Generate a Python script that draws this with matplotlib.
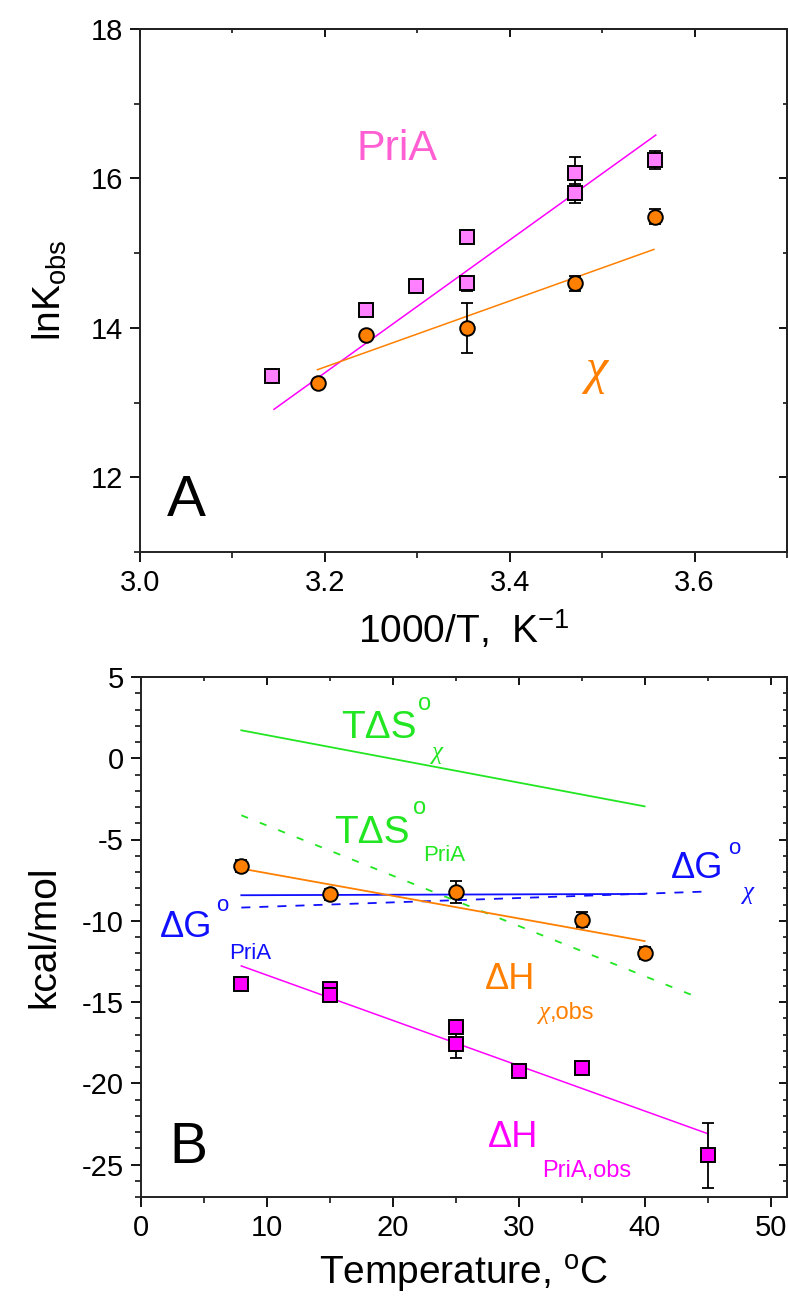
import matplotlib
matplotlib.use("Agg")
import matplotlib.pyplot as plt
from matplotlib.ticker import MultipleLocator

plt.rcParams["font.family"] = ["Liberation Sans", "DejaVu Sans"]
plt.rcParams["mathtext.fontset"] = "custom"
plt.rcParams["mathtext.rm"] = "Liberation Sans"
plt.rcParams["mathtext.default"] = "regular"
plt.rcParams["axes.unicode_minus"] = False

# ---- panel A: van't Hoff data ----
invT_pria = [3.143, 3.245, 3.299, 3.354, 3.354, 3.471, 3.471, 3.557]
lnK_pria = [13.36, 14.24, 14.56, 15.21, 14.60, 16.07, 15.80, 16.25]
lnK_pria_err = [0.05, 0.07, 0.06, 0.05, 0.10, 0.22, 0.13, 0.12]

invT_chi = [3.193, 3.245, 3.354, 3.471, 3.557]
lnK_chi = [13.26, 13.90, 14.00, 14.60, 15.49]
lnK_chi_err = [0.05, 0.05, 0.33, 0.10, 0.10]

pria_fit_x = [3.145, 3.558]
pria_fit_y = [12.91, 16.58]
chi_fit_x = [3.192, 3.556]
chi_fit_y = [13.44, 15.05]

# ---- panel B: thermodynamic parameters ----
temp_chi = [8, 15, 25, 35, 40]
dH_chi = [-6.63, -8.37, -8.23, -9.93, -11.98]
dH_chi_err = [0.35, 0.35, 0.65, 0.45, 0.35]

temp_pria = [8, 15, 15, 25, 25, 30, 35, 45]
dH_pria = [-13.87, -14.20, -14.55, -16.54, -17.56, -19.26, -19.04, -24.43]
dH_pria_err = [0.3, 0.3, 0.3, 0.3, 0.9, 0.3, 0.35, 2.0]

tds_chi_T = [8, 40]
tds_chi = [1.72, -2.96]
tds_pria_T = [8, 44.5]
tds_pria = [-3.51, -14.80]
dH_chi_fit_T = [8, 40]
dH_chi_fit = [-6.79, -11.25]
dG_chi_T = [8, 40]
dG_chi = [-8.43, -8.35]
dG_pria_T = [8, 45]
dG_pria = [-9.19, -8.20]
dH_pria_fit_T = [8, 45]
dH_pria_fit = [-12.78, -23.10]

MAGENTA = "#ff00ff"
VIOLET = "#ff80ff"
ORANGE = "#ff8000"
GREEN = "#22e622"
BLUE = "#1010ff"
PINK = "#ff5fd2"
CHI_FONT = ["Liberation Serif", "DejaVu Serif"]

W, H = 788, 1302


def frame(fig, left, right, top, bottom):
    return fig.add_axes([left / W, 1 - bottom / H, (right - left) / W, (bottom - top) / H])


def style(ax, xmaj, xmin, ymaj, ymin):
    for s in ax.spines.values():
        s.set_linewidth(1.4)
        s.set_color("#222222")
    ax.xaxis.set_major_locator(MultipleLocator(xmaj))
    ax.xaxis.set_minor_locator(MultipleLocator(xmin))
    ax.yaxis.set_major_locator(MultipleLocator(ymaj))
    ax.yaxis.set_minor_locator(MultipleLocator(ymin))
    ax.tick_params(which="major", direction="out", length=7, width=1.3, labelsize=21, pad=5)
    ax.tick_params(which="minor", direction="out", length=4, width=1.1)
    top = ax.secondary_xaxis("top")
    right = ax.secondary_yaxis("right")
    for sec, axis in ((top, top.xaxis), (right, right.yaxis)):
        maj = xmaj if sec is top else ymaj
        mnr = xmin if sec is top else ymin
        axis.set_major_locator(MultipleLocator(maj))
        axis.set_minor_locator(MultipleLocator(mnr))
        sec.tick_params(which="major", direction="in", length=6, width=1.3, labelsize=0)
        sec.tick_params(which="minor", direction="in", length=3, width=1.1)
        axis.set_ticklabels([])
        for s in sec.spines.values():
            s.set_linewidth(1.4)
            s.set_color("#222222")


fig = plt.figure(figsize=(W / 100, H / 100), dpi=100)

# ---------------- panel A ----------------
axA = frame(fig, 140, 787, 29, 552)
axA.set_xlim(3.0, 3.7)
axA.set_ylim(11, 18)

axA.plot(pria_fit_x, pria_fit_y, color=MAGENTA, lw=1.1, zorder=2)
axA.plot(chi_fit_x, chi_fit_y, color=ORANGE, lw=1.1, zorder=2)
axA.errorbar(invT_pria, lnK_pria, yerr=lnK_pria_err, fmt="none", ecolor="black",
             elinewidth=1.3, capsize=4, capthick=1.3, zorder=3)
axA.errorbar(invT_chi, lnK_chi, yerr=lnK_chi_err, fmt="none", ecolor="black",
             elinewidth=1.3, capsize=4, capthick=1.3, zorder=3)
axA.plot(invT_pria, lnK_pria, "s", ms=9.5, mfc=VIOLET, mec="black", mew=1.4, ls="none", zorder=4)
axA.plot(invT_chi, lnK_chi, "o", ms=10.5, mfc=ORANGE, mec="black", mew=1.4, ls="none", zorder=4)

style(axA, 0.2, 0.1, 2, 1)
axA.set_xticks([3.0, 3.2, 3.4, 3.6])
axA.set_xticklabels(["3.0", "3.2", "3.4", "3.6"])
axA.set_xlabel("1000/T,  K$^{-1}$", fontsize=28, labelpad=8)
axA.set_ylabel("lnK$_{obs}$", fontsize=28, labelpad=16)

axA.text(3.234, 16.25, "PriA", color=PINK, fontsize=31)
axA.text(3.482, 13.43, "χ", color=ORANGE, fontsize=36, va="center", family=CHI_FONT, style="italic")
axA.text(3.029, 11.48, "A", color="black", fontsize=42)

# ---------------- panel B ----------------
axB = frame(fig, 140.5, 787, 677, 1197)
axB.set_xlim(0, 51.3)
axB.set_ylim(-27, 5)

axB.plot(tds_chi_T, tds_chi, color=GREEN, lw=1.3, zorder=2)
axB.plot(tds_pria_T, tds_pria, color=GREEN, lw=1.3, ls=(0, (4, 7)), zorder=2)
axB.plot(dG_chi_T, dG_chi, color=BLUE, lw=1.3, zorder=2)
axB.plot(dG_pria_T, dG_pria, color=BLUE, lw=1.3, ls=(0, (5, 5)), zorder=2)
axB.plot(dH_chi_fit_T, dH_chi_fit, color=ORANGE, lw=1.3, zorder=2)
axB.plot(dH_pria_fit_T, dH_pria_fit, color=MAGENTA, lw=1.1, zorder=2)

axB.errorbar(temp_chi, dH_chi, yerr=dH_chi_err, fmt="none", ecolor="black",
             elinewidth=1.3, capsize=4, capthick=1.3, zorder=3)
axB.errorbar(temp_pria, dH_pria, yerr=dH_pria_err, fmt="none", ecolor="black",
             elinewidth=1.3, capsize=4, capthick=1.3, zorder=3)
axB.plot(temp_chi, dH_chi, "o", ms=10.5, mfc=ORANGE, mec="black", mew=1.4, ls="none", zorder=4)
axB.plot(temp_pria, dH_pria, "s", ms=9.5, mfc=MAGENTA, mec="black", mew=1.4, ls="none", zorder=4)

style(axB, 10, 5, 5, 1)
axB.set_xlabel("Temperature, $^{o}$C", fontsize=28, labelpad=8)
axB.set_ylabel("kcal/mol", fontsize=28, labelpad=14)

# labels
axB.text(15.9, 1.23, "TΔS", color=GREEN, fontsize=28)
axB.text(22.0, 3.0, "o", color=GREEN, fontsize=17)
axB.text(23.1, 0.3, "χ", color=GREEN, fontsize=18, va="center", family=CHI_FONT, style="italic")

axB.text(15.4, -5.2, "TΔS", color=GREEN, fontsize=28)
axB.text(21.6, -3.4, "o", color=GREEN, fontsize=17)
axB.text(22.4, -6.0, "PriA", color=GREEN, fontsize=16, va="center")

axB.text(42.1, -7.4, "ΔG", color=BLUE, fontsize=26)
axB.text(46.6, -5.9, "o", color=BLUE, fontsize=16)
axB.text(47.8, -8.3, "χ", color=BLUE, fontsize=18, va="center", family=CHI_FONT, style="italic")

axB.text(1.5, -11.0, "ΔG", color=BLUE, fontsize=26)
axB.text(6.0, -9.4, "o", color=BLUE, fontsize=16)
axB.text(7.0, -12.0, "PriA", color=BLUE, fontsize=16, va="center")

axB.text(27.3, -14.2, "ΔH", color=ORANGE, fontsize=26)
axB.text(31.6, -15.7, "χ", color=ORANGE, fontsize=18, va="center", family=CHI_FONT, style="italic")
axB.text(32.5, -15.7, ",obs", color=ORANGE, fontsize=17, va="center")

axB.text(27.6, -23.9, "ΔH", color=MAGENTA, fontsize=26)
axB.text(31.9, -25.4, "PriA,obs", color=MAGENTA, fontsize=17, va="center")

axB.text(2.3, -24.9, "B", color="black", fontsize=41)

fig.savefig("out.png", dpi=100)
